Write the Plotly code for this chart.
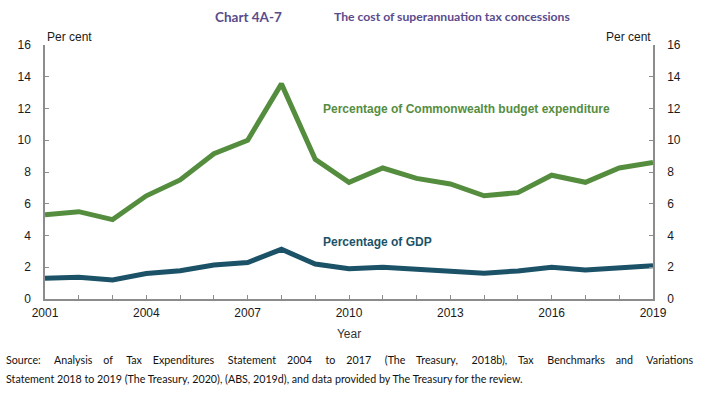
import plotly.graph_objects as go

years = list(range(2001, 2020))
budget_pct = [5.3, 5.5, 5.0, 6.5, 7.5, 9.15, 10.0, 13.55, 8.8, 7.35,
              8.25, 7.6, 7.25, 6.5, 6.7, 7.8, 7.35, 8.25, 8.6]
gdp_pct = [1.3, 1.37, 1.2, 1.6, 1.78, 2.14, 2.3, 3.13, 2.2, 1.9,
           2.0, 1.87, 1.72, 1.62, 1.77, 2.0, 1.83, 2.0, 2.1]
x_tick_labels = [str(y) if (y - 2001) % 3 == 0 else "" for y in years]
y_ticks = [0, 2, 4, 6, 8, 10, 12, 14, 16]

GREEN = "#558d3f"
TEAL = "#1b5267"
AXIS = "#8c8c8c"
TXT = "#1a1a1a"
TITLE = "#5a4b8c"

L, R, T, B = 45, 54, 45, 94
W, H = 707, 393
PW, PH = W - L - R, H - T - B


def px(x):
    return (x - L) / PW


def py(y):
    return (H - B - y) / PH


fig = go.Figure()
fig.add_trace(go.Scatter(x=years, y=budget_pct, mode="lines",
                         line=dict(color=GREEN, width=5), yaxis="y",
                         hoverinfo="skip", showlegend=False))
fig.add_trace(go.Scatter(x=years, y=gdp_pct, mode="lines",
                         line=dict(color=TEAL, width=5), yaxis="y2",
                         hoverinfo="skip", showlegend=False))

tickfont = dict(family="Liberation Sans, Arial", size=12, color=TXT)
fig.update_layout(
    width=W, height=H,
    margin=dict(l=L, r=R, t=T, b=B, autoexpand=False),
    paper_bgcolor="white", plot_bgcolor="white",
    xaxis=dict(range=[2001, 2019], tickvals=years, ticktext=x_tick_labels,
               ticks="inside", ticklen=4, tickcolor=AXIS, showline=True,
               linecolor=AXIS, linewidth=1.5, showgrid=False, zeroline=False,
               tickfont=tickfont, ticklabelstandoff=2, automargin=False,
               title=dict(text="Year", font=dict(family="Liberation Sans, Arial", size=12, color="#333"),
                          standoff=10)),
    yaxis=dict(range=[0, 16], tickvals=y_ticks, ticks="inside", ticklen=4,
               tickcolor=AXIS, showline=True, linecolor=AXIS, linewidth=1.5,
               showgrid=False, zeroline=False, tickfont=tickfont,
               ticklabelstandoff=10, automargin=False),
    yaxis2=dict(range=[0, 16], tickvals=y_ticks, ticks="inside", ticklen=4,
                tickcolor=AXIS, showline=True, linecolor=AXIS, linewidth=1.5,
                showgrid=False, zeroline=False, tickfont=tickfont,
                overlaying="y", side="right", ticklabelstandoff=10,
                automargin=False),
)

ann_font = dict(family="Liberation Sans, Arial", size=12, color=TXT)
fig.add_annotation(text="Per cent", xref="paper", yref="paper", x=0, y=py(37),
                   xanchor="left", yanchor="middle", showarrow=False,
                   font=ann_font)
fig.add_annotation(text="Per cent", xref="paper", yref="paper", x=1, y=py(37),
                   xanchor="right", yanchor="middle", showarrow=False,
                   font=ann_font)

fig.add_annotation(text="<b>Percentage of Commonwealth budget expenditure</b>",
                   x=2013.49, y=11.97, xref="x", yref="y", showarrow=False,
                   font=dict(family="Liberation Sans, Arial", size=12, color=GREEN))
fig.add_annotation(text="<b>Percentage of GDP</b>",
                   x=2010.84, y=3.6, xref="x", yref="y", showarrow=False,
                   font=dict(family="Liberation Sans, Arial", size=12, color=TEAL))

fig.add_annotation(text="<b>Chart 4A-7</b>", xref="paper", yref="paper",
                   x=px(213), y=py(17), xanchor="left", yanchor="middle",
                   showarrow=False,
                   font=dict(family="Lato, Carlito, Calibri", size=13.5, color=TITLE))
fig.add_annotation(text="<b>The cost of superannuation tax concessions</b>",
                   xref="paper", yref="paper", x=px(332), y=py(17),
                   xanchor="left", yanchor="middle", showarrow=False,
                   font=dict(family="Lato, Carlito, Calibri", size=12.2, color=TITLE))

src_font = dict(family="Lato, Carlito, Calibri", size=10.7, color="#111")
line1_words = ["Source:", "Analysis", "of", "Tax", "Expenditures", "Statement",
               "2004", "to", "2017", "(The", "Treasury,", "2018b),", "Tax",
               "Benchmarks", "and", "Variations"]
line1 = line1_words[0]
for i, w in enumerate(line1_words[1:]):
    n = 4 if i % 2 == 0 else 3
    line1 += "\u00a0" * n + " " + w
fig.add_annotation(text=line1,
                   xref="paper", yref="paper", x=px(4), y=py(359),
                   xanchor="left", yanchor="middle", showarrow=False, font=src_font)
fig.add_annotation(text="Statement 2018 to 2019 (The Treasury, 2020), (ABS, 2019d), and data provided by The Treasury for the review.",
                   xref="paper", yref="paper", x=px(4), y=py(378),
                   xanchor="left", yanchor="middle", showarrow=False, font=src_font)

fig.write_html("out.html", post_script="document.body.style.margin='0px';",
               config={"displayModeBar": False})
